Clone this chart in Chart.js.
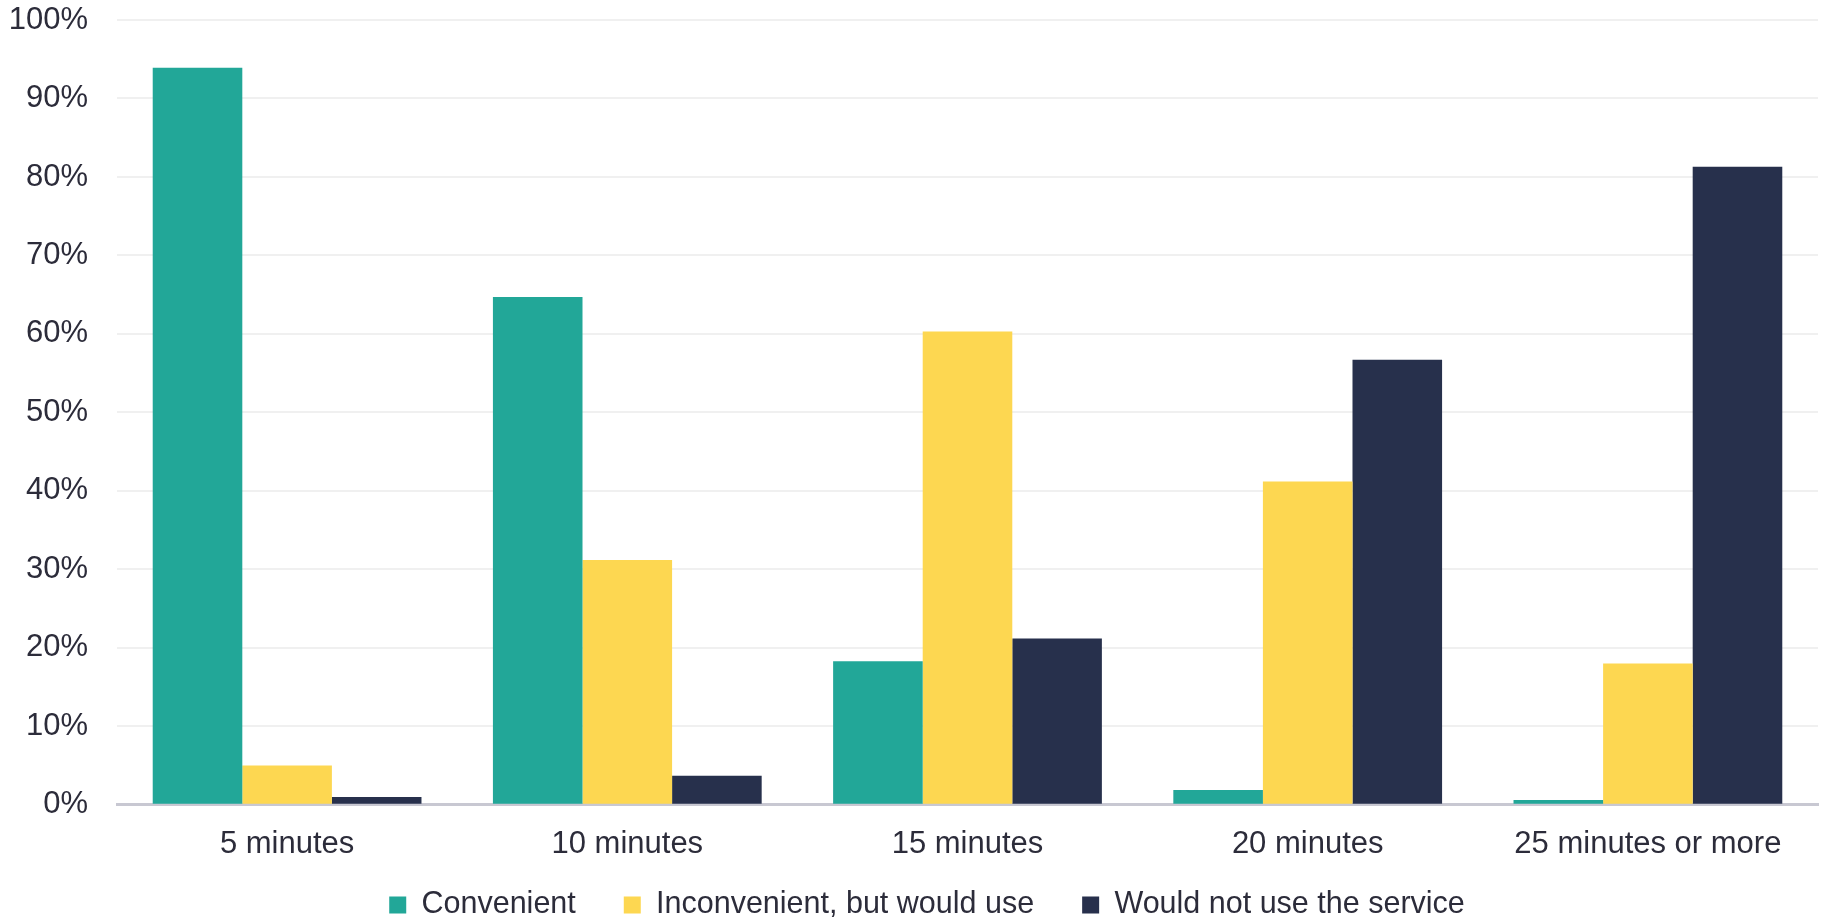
<!DOCTYPE html>
<html>
<head>
<meta charset="utf-8">
<script src="https://cdn.jsdelivr.net/npm/chart.js@4/dist/chart.umd.min.js"></script>
<style>
  html, body { margin: 0; padding: 0; background: #ffffff; }
  #wrap { width: 1824px; height: 920px; }
</style>
</head>
<body>
<div id="wrap"><canvas id="c" width="1824" height="920"></canvas></div>
<script>
// Travel time to the service vs. willingness to use it (share of respondents)
const categories = ['5 minutes', '10 minutes', '15 minutes', '20 minutes', '25 minutes or more'];
const convenient = [93.9, 64.7, 18.3, 1.9, 0.6];
const inconvenientButWouldUse = [5.0, 31.2, 60.3, 41.2, 18.0];
const wouldNotUse = [1.0, 3.7, 21.2, 56.7, 81.3];
const seriesNames = ['Convenient', 'Inconvenient, but would use', 'Would not use the service'];
const yTicks = [0, 10, 20, 30, 40, 50, 60, 70, 80, 90, 100];

const colors = ['#22a798', '#fdd751', '#27304c'];
const textColor = '#2c2c3a';
const fontFamily = '"Liberation Sans", Arial, sans-serif';

// Nudges the legend row: a little right of centre, and close under the axis labels
const legendPlacement = {
  id: 'legendPlacement',
  afterLayout(chart) {
    const lg = chart.legend;
    const dx = 15;
    lg.left += dx;
    lg.right += dx;
    const pad = lg.options.labels.padding;
    const itemH = Math.max(lg.options.labels.font.size, lg.options.labels.boxHeight);
    const centreY = 905;
    lg.top = centreY - pad - itemH / 2;
    lg.bottom = chart.height;
    lg.height = lg.bottom - lg.top;
  }
};

const chart = new Chart(document.getElementById('c'), {
  type: 'bar',
  data: {
    labels: categories,
    datasets: [convenient, inconvenientButWouldUse, wouldNotUse].map((vals, i) => ({
      label: seriesNames[i],
      data: vals,
      backgroundColor: colors[i],
      borderWidth: 0,
      barPercentage: 1.0,
      categoryPercentage: 0.79
    }))
  },
  plugins: [legendPlacement],
  options: {
    responsive: false,
    animation: false,
    layout: { padding: { left: 6, right: 6, top: 20, bottom: 0 } },
    plugins: {
      tooltip: { enabled: false },
      legend: {
        position: 'bottom',
        maxHeight: 36,
        labels: {
          boxWidth: 17,
          boxHeight: 17,
          padding: 48,
          color: textColor,
          font: { family: fontFamily, size: 30.5 }
        }
      }
    },
    scales: {
      x: {
        grid: { display: false, drawTicks: false },
        border: { display: true, color: '#c8c8d2', width: 3 },
        ticks: {
          color: textColor,
          padding: 21,
          maxRotation: 0,
          font: { family: fontFamily, size: 31 }
        }
      },
      y: {
        min: 0,
        max: 100,
        afterFit: (scale) => { scale.width = 111; },
        afterBuildTicks: (scale) => { scale.ticks = yTicks.map(v => ({ value: v })); },
        grid: { color: '#f0f0f0', lineWidth: 2, drawTicks: true, tickLength: 29, tickColor: 'rgba(0,0,0,0)' },
        border: { display: false },
        ticks: {
          color: textColor,
          padding: 0,
          font: { family: fontFamily, size: 31 },
          callback: (v) => v + '%'
        }
      }
    }
  }
});
</script>
</body>
</html>
